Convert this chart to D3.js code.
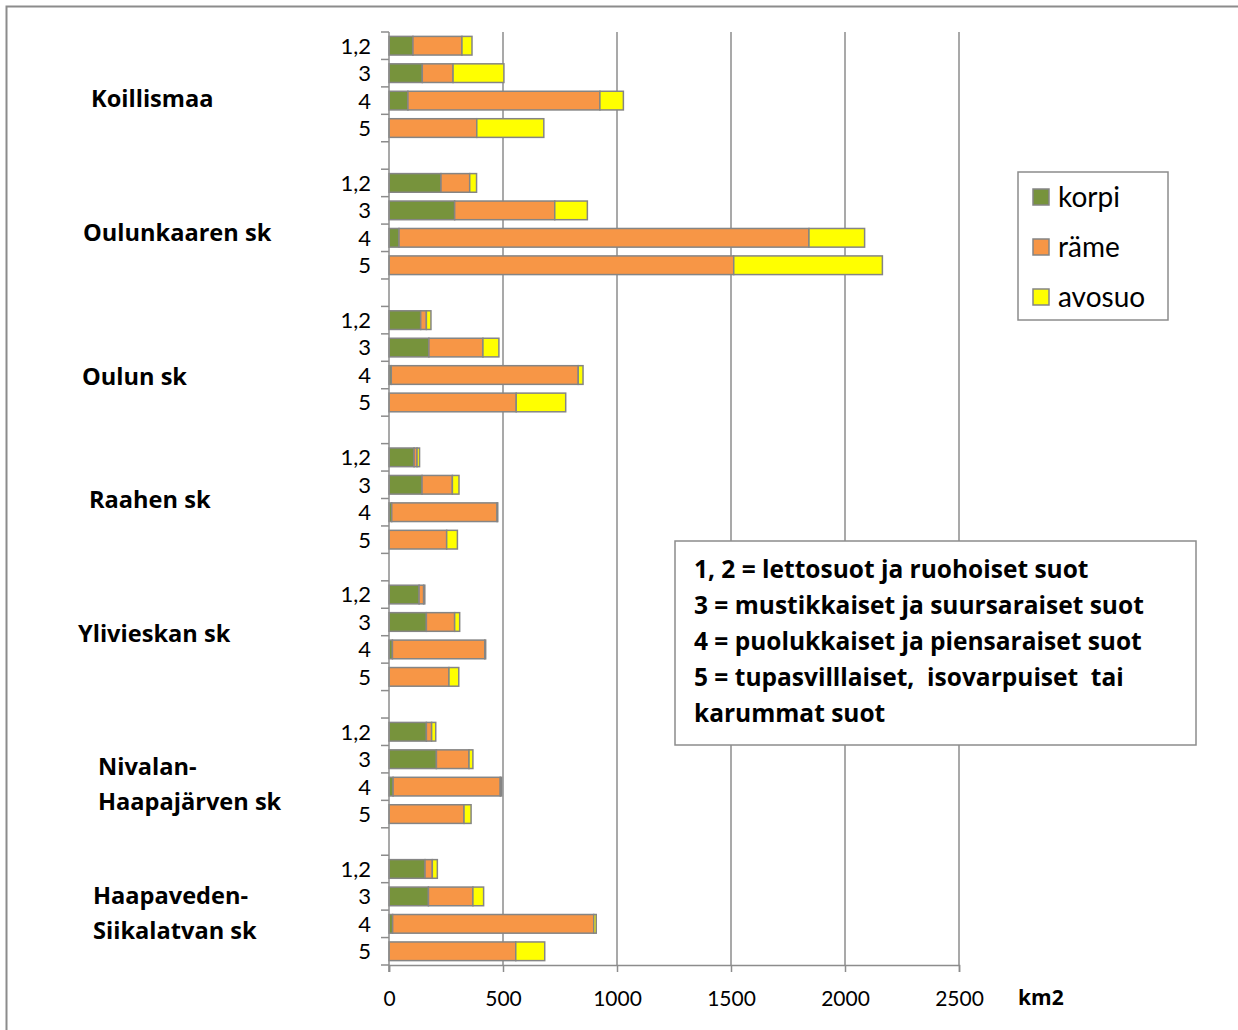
<!DOCTYPE html>
<html>
<head>
<meta charset="utf-8">
<style>
  body { margin: 0; background: #fff; }
  text { font-family: Lato, "Open Sans", sans-serif; }
  .bold { font-family: "Open Sans", Lato, sans-serif; font-weight: bold; }
</style>
</head>
<body>

<script src="https://d3js.org/d3.v7.min.js"></script>
<script>

const width = 1238;
const height = 1030;

// regions (groups) and mire fertility classes inside each group
const groups = ['Koillismaa', 'Oulunkaaren sk', 'Oulun sk', 'Raahen sk',
                'Ylivieskan sk', 'Nivalan-Haapajärven sk', 'Haapaveden-Siikalatvan sk'];
const groupLines = [['Koillismaa'], ['Oulunkaaren sk'], ['Oulun sk'], ['Raahen sk'],
                    ['Ylivieskan sk'], ['Nivalan-', 'Haapajärven sk'], ['Haapaveden-', 'Siikalatvan sk']];
const classes = ['1,2', '3', '4', '5'];
const series = ['korpi', 'räme', 'avosuo'];
const colors = ['#77933C', '#F79646', '#FFFF00'];

// km2, one array per series, rows = groups x classes
const korpi = [
  105, 146, 83, 0,
  228, 288, 44, 0,
  139, 175, 10, 0,
  110, 145, 12, 0,
  132, 164, 15, 0,
  164, 208, 18, 0,
  158, 173, 16, 0
];
const rame = [
  215, 135, 842, 385,
  126, 439, 1798, 1512,
  25, 237, 820, 558,
  13, 133, 462, 253,
  20, 124, 405, 263,
  23, 143, 470, 329,
  32, 195, 882, 556
];
const avosuo = [
  44, 223, 103, 294,
  30, 143, 244, 652,
  20, 70, 21, 217,
  11, 29, 3, 47,
  5, 22, 4, 43,
  18, 17, 6, 31,
  22, 47, 11, 127
];
const xTicks = [0, 500, 1000, 1500, 2000, 2500];
const noteLines = [
  '1, 2 = lettosuot ja ruohoiset suot',
  '3 = mustikkaiset ja suursaraiset suot',
  '4 = puolukkaiset ja piensaraiset suot',
  '5 = tupasvilllaiset,  isovarpuiset  tai',
  'karummat suot'
];

// small tweaks for the group label placement (x, y shift)
const labelPos = [[91, 12], [83, 8], [82, 15], [89, 1], [78, -2], [98, 11], [93, 3]];

const svg = d3.select('body')
              .append('svg')
              .attr('width', width)
              .attr('height', height);

svg.append('rect')
   .attr('x', 6.5).attr('y', 6.5)
   .attr('width', width + 10).attr('height', height + 10)
   .attr('fill', '#fff')
   .attr('stroke', '#8c8c8c')
   .attr('stroke-width', 2);

// build rows: each group's 4 classes, then a blank slot
const rows = [];
const slots = [];
groups.forEach((g, gi) => {
  classes.forEach((c, ci) => {
    const i = gi * 4 + ci;
    const key = g + '|' + c;
    slots.push(key);
    rows.push({ key, group: gi, cls: c, values: [korpi[i], rame[i], avosuo[i]] });
  });
  if (gi < groups.length - 1) slots.push('blank' + gi);
});

const plot = { left: 389, right: 959, top: 32, bottom: 965 };

const x = d3.scaleLinear().domain([0, 2500]).range([plot.left, plot.right]);
const y = d3.scaleBand().domain(slots).range([plot.top, plot.bottom]).paddingInner(0).paddingOuter(0);

// vertical grid lines
svg.append('g')
   .selectAll('line')
   .data(xTicks.slice(1))
   .enter()
   .append('line')
   .attr('x1', d => x(d)).attr('x2', d => x(d))
   .attr('y1', plot.top).attr('y2', plot.bottom)
   .attr('stroke', '#8c8c8c')
   .attr('stroke-width', 1.5);

// stacked bars
const stackData = rows.map(r => ({ key: r.key, korpi: r.values[0], 'räme': r.values[1], avosuo: r.values[2] }));
const stacked = d3.stack().keys(series)(stackData);
const barH = y.bandwidth() * 0.68;

svg.append('g')
   .selectAll('g')
   .data(stacked)
   .enter()
   .append('g')
   .attr('fill', (d, i) => colors[i])
   .selectAll('rect')
   .data(d => d.filter(p => p[1] - p[0] > 0))
   .enter()
   .append('rect')
   .attr('x', d => x(d[0]))
   .attr('y', d => y(d.data.key) + (y.bandwidth() - barH) / 2)
   .attr('width', d => x(d[1]) - x(d[0]))
   .attr('height', barH)
   .attr('stroke', '#858585')
   .attr('stroke-width', 1.5);

// left axis with ticks at every slot boundary
const yAxis = svg.append('g');
yAxis.append('line')
     .attr('x1', plot.left).attr('x2', plot.left)
     .attr('y1', plot.top).attr('y2', plot.bottom + 7)
     .attr('stroke', '#8c8c8c').attr('stroke-width', 1.5);
yAxis.selectAll('line.tick')
     .data(slots.concat(['end']))
     .enter()
     .append('line')
     .attr('class', 'tick')
     .attr('x1', plot.left - 8).attr('x2', plot.left)
     .attr('y1', d => d === 'end' ? plot.bottom : y(d))
     .attr('y2', d => d === 'end' ? plot.bottom : y(d))
     .attr('stroke', '#8c8c8c').attr('stroke-width', 1.5);
yAxis.selectAll('text')
     .data(rows)
     .enter()
     .append('text')
     .attr('x', 371)
     .attr('y', d => y(d.key) + y.bandwidth() / 2)
     .attr('dy', '0.36em')
     .attr('text-anchor', 'end')
     .attr('font-size', 22)
     .attr('fill', '#000')
     .text(d => d.cls);

// bottom axis
const xAxis = svg.append('g')
                 .attr('transform', `translate(0,${plot.bottom})`)
                 .call(d3.axisBottom(x).tickValues(xTicks).tickSize(7).tickPadding(19).tickFormat(d3.format('d')));
xAxis.select('.domain').attr('stroke', '#8c8c8c').attr('stroke-width', 1.5);
xAxis.selectAll('.tick line').attr('stroke', '#8c8c8c').attr('stroke-width', 1.5);
xAxis.selectAll('.tick text')
     .attr('font-size', 21)
     .attr('font-family', 'Lato, sans-serif')
     .attr('fill', '#000');

svg.append('text')
   .attr('class', 'bold')
   .attr('x', 1018).attr('y', 997)
   .attr('dy', '0.36em')
   .attr('font-size', 21)
   .text('km2');

// group labels
groupLines.forEach((lines, gi) => {
  const first = y(groups[gi] + '|1,2');
  const last = y(groups[gi] + '|5') + y.bandwidth();
  const cy = (first + last) / 2 + labelPos[gi][1];
  const lh = 35;
  lines.forEach((t, li) => {
    svg.append('text')
       .attr('class', 'bold')
       .attr('x', labelPos[gi][0])
       .attr('y', cy + (li - (lines.length - 1) / 2) * lh)
       .attr('dy', '0.36em')
       .attr('font-size', 23.6)
       .attr('fill', '#000')
       .text(t);
  });
});

// legend
const legend = svg.append('g').attr('transform', 'translate(1018,172)');
legend.append('rect')
      .attr('width', 150).attr('height', 148)
      .attr('fill', '#fff')
      .attr('stroke', '#8c8c8c').attr('stroke-width', 1.5);
series.forEach((s, i) => {
  const ly = 25 + i * 50;
  legend.append('rect')
        .attr('x', 15).attr('y', ly - 8)
        .attr('width', 16).attr('height', 16)
        .attr('fill', colors[i])
        .attr('stroke', '#858585').attr('stroke-width', 1.5);
  legend.append('text')
        .attr('x', 40).attr('y', ly)
        .attr('dy', '0.36em')
        .attr('font-size', 28)
        .attr('font-family', '"Open Sans", sans-serif')
        .attr('fill', '#000')
        .text(s);
});

// explanation box
const note = svg.append('g').attr('transform', 'translate(675,541)');
note.append('rect')
    .attr('width', 521).attr('height', 204)
    .attr('fill', '#fff')
    .attr('stroke', '#8c8c8c').attr('stroke-width', 1.5);
noteLines.forEach((t, i) => {
  note.append('text')
      .attr('class', 'bold')
      .attr('x', 19)
      .attr('y', 28 + i * 36)
      .attr('dy', '0.36em')
      .attr('font-size', 24.5)
      .attr('fill', '#000')
      .attr('xml:space', 'preserve')
      .style('white-space', 'pre')
      .text(t);
});

</script>
</body>
</html>
